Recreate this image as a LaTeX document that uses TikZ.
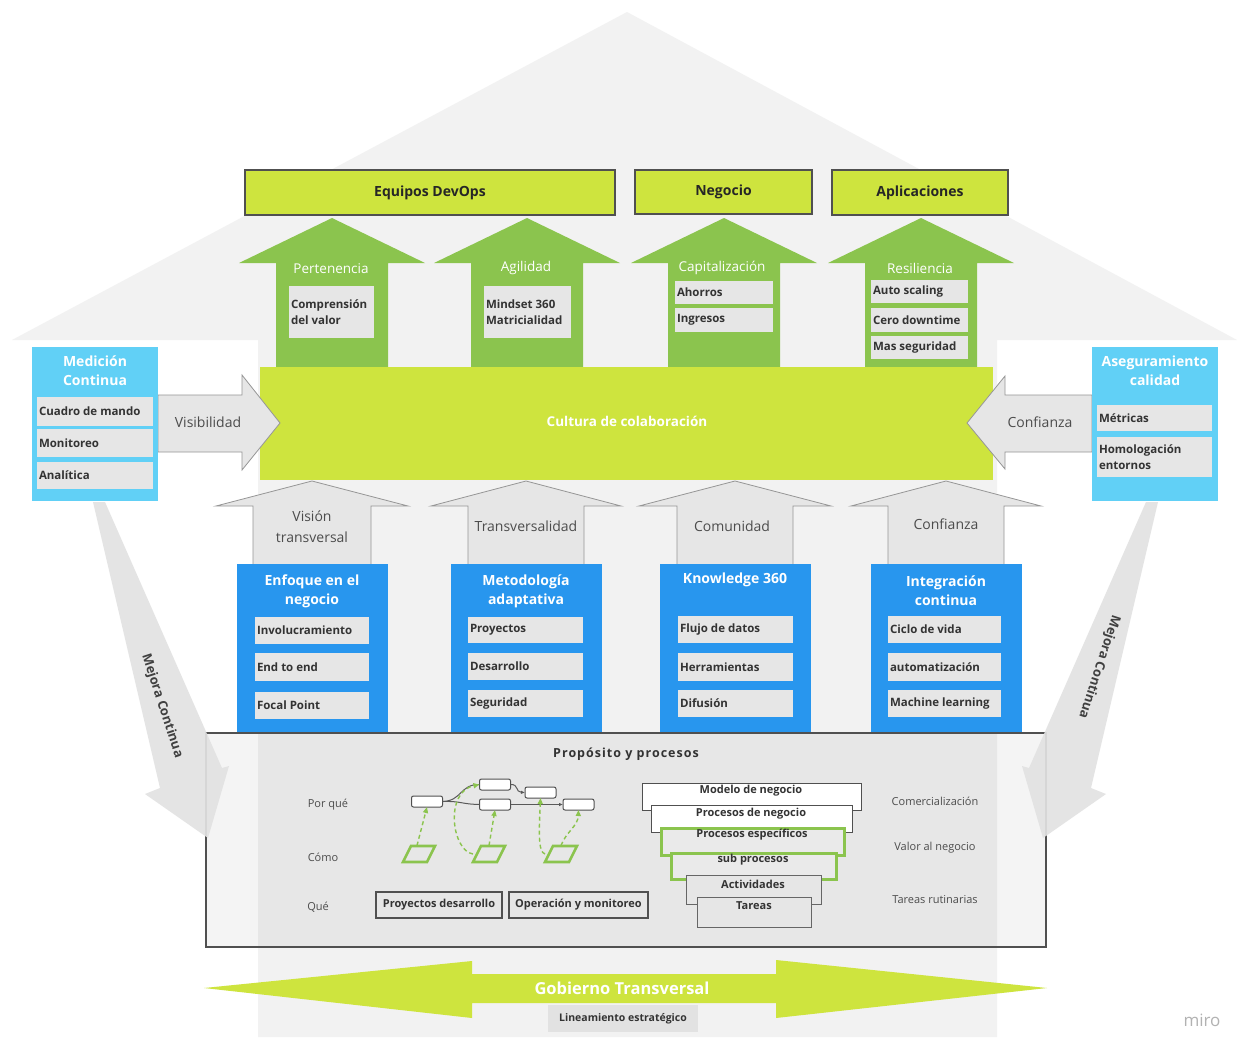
\documentclass[tikz,border=0pt]{standalone}
\usepackage{fontspec}
\setmainfont{Open Sans}
\usetikzlibrary{arrows.meta}

\definecolor{lime}{RGB}{206,228,62}
\definecolor{leaf}{RGB}{139,196,78}
\definecolor{sky}{RGB}{97,208,246}
\definecolor{azure}{RGB}{40,150,238}
\definecolor{chipgray}{RGB}{230,230,230}
\definecolor{house}{RGB}{242,242,242}
\definecolor{ink}{RGB}{51,51,51}
\definecolor{edge}{RGB}{80,80,80}
\definecolor{shade}{RGB}{226,226,226}
\definecolor{outline}{RGB}{150,150,150}

% rectangle node given by its corners: style, name, x1, y1, x2, y2, text
\newcommand\mkbox[7]{\node[#1,minimum width={#5-#3},minimum height={#6-#4}] (#2) at ({(#3+#5)/2},{(#4+#6)/2}) {#7};}
% grey item with left-aligned label: name, x1, y1, x2, y2, text
\newcommand\mkchip[6]{%
  \node[chipbox,minimum width={#4-#2},minimum height={#5-#3}] (#1) at ({(#2+#4)/2},{(#3+#5)/2}) {};
  \node[chiptext,anchor=west] (#1-t) at ([xshift=2pt]#1.west) {#6};}
% upward block arrow: centre x, tip y, head base y, head half width, shaft half width, bottom y, style
\newcommand\uparrowshape[7]{\path[#7] (#1,#2) -- ({#1+#4},#3) -- ({#1+#5},#3) -- ({#1+#5},#6) -- ({#1-#5},#6) -- ({#1-#5},#3) -- ({#1-#4},#3) -- cycle;}

\begin{document}
\begin{tikzpicture}[x=1pt,y=-1pt,
  every node/.style={inner sep=0pt,outer sep=0pt},
  topbox/.style={rectangle,fill=lime,draw=edge,line width=1.2pt,text=black!85,font=\bfseries\fontsize{14}{17}\selectfont},
  chipbox/.style={rectangle,fill=chipgray},
  chiptext/.style={text=ink,align=left,font=\bfseries\fontsize{11.5}{16}\selectfont},
  greenlabel/.style={text=white,font=\fontsize{13.5}{16}\selectfont},
  graylabel/.style={text=black!70,align=center,font=\fontsize{14}{21}\selectfont},
  bluetitle/.style={text=white,align=center,font=\bfseries\fontsize{14}{19}\selectfont},
  graybody/.style={fill=chipgray,draw=outline,line width=0.8pt},
  minibox/.style={rectangle,rounded corners=2pt,fill=white,draw=edge,line width=1pt,minimum width=31pt,minimum height=11pt},
  flow/.style={draw=black!65,line width=1pt},
  flowtip/.style={flow,-{Latex[length=4pt,width=3.5pt]}},
  dashline/.style={draw=leaf,line width=1.4pt,dash pattern=on 4pt off 3pt,-{Triangle[length=6pt,width=5pt]}},
  para/.style={draw=leaf,line width=2.6pt,line join=miter},
  small/.style={text=black!70,font=\fontsize{11}{13}\selectfont},
  framebox/.style={rectangle,fill=chipgray,draw=edge,line width=1.2pt,text=ink,font=\bfseries\fontsize{11}{13}\selectfont},
  tier/.style={draw=edge,line width=1pt},
  tiertext/.style={text=ink,font=\bfseries\fontsize{11}{13}\selectfont},
]
\useasboundingbox (0,0) rectangle (1237,1037);
\fill[white] (0,0) rectangle (1237,1037);

% house: roof and body
\fill[house] (12,340) -- (627,12) -- (1237,340) -- (997,340) -- (997,1037) -- (258,1037) -- (258,340) -- cycle;

% green arrows towards the top boxes
\uparrowshape{332}{218}{263}{93}{56}{380}{fill=leaf}
\uparrowshape{527}{218}{263}{93}{56}{380}{fill=leaf}
\uparrowshape{724}{218}{263}{93}{56}{380}{fill=leaf}
\uparrowshape{921}{218}{263}{93}{56}{380}{fill=leaf}
\node[greenlabel] (l-pert) at (331,269) {Pertenencia};
\node[greenlabel] (l-agil) at (526,268) {Agilidad};
\node[greenlabel] (l-capi) at (722,268) {Capitalización};
\node[greenlabel] (l-resi) at (920,268) {Resiliencia};
\mkchip{c-comp}{289}{286}{374}{338}{Comprensión\\del valor}
\mkchip{c-mind}{484}{286}{571}{338}{Mindset 360\\Matricialidad}
\mkchip{c-ahor}{675}{281}{773}{304}{Ahorros}
\mkchip{c-ingr}{675}{308}{773}{332}{Ingresos}
\mkchip{c-auto}{871}{280}{968}{303}{Auto scaling}
\mkchip{c-cero}{871}{308}{968}{332}{Cero downtime}
\mkchip{c-mass}{871}{336}{968}{359}{Mas seguridad}

% top boxes
\mkbox{topbox}{teams}{245}{170}{615}{215}{Equipos DevOps}
\mkbox{topbox}{biz}{635}{170}{812}{214}{Negocio}
\mkbox{topbox}{apps}{832}{170}{1008}{215}{Aplicaciones}

% grey arrows from the pillars up to the culture band
\uparrowshape{312}{481}{506}{96}{59}{580}{graybody}
\uparrowshape{526}{481}{506}{95}{58}{580}{graybody}
\uparrowshape{735}{481}{506}{96}{58}{580}{graybody}
\uparrowshape{946}{481}{506}{95}{58}{580}{graybody}
\node[graylabel] (g-vis) at (312,527) {Visión\\transversal};
\node[graylabel] (g-tra) at (526,526) {Transversalidad};
\node[graylabel] (g-com) at (732,526) {Comunidad};
\node[graylabel] (g-con) at (946,524) {Confianza};

% culture band
\mkbox{fill=lime}{culture}{260}{367}{993}{480}{}
\node[text=white,font=\bfseries\fontsize{13.5}{16}\selectfont] (culture-t) at (627,421) {Cultura de colaboración};

% side arrows
\path[graybody] (158,395) -- (242,395) -- (242,375) -- (280,423) -- (242,470) -- (242,452) -- (158,452) -- cycle;
\path[graybody] (1092,395) -- (1005,395) -- (1005,376) -- (967,423) -- (1005,469) -- (1005,452) -- (1092,452) -- cycle;
\node[graylabel] (a-vis) at (208,422) {Visibilidad};
\node[graylabel] (a-con) at (1040,422) {Confianza};

% side boxes
\mkbox{fill=sky}{measure}{32}{347}{158}{501}{}
\node[bluetitle] (measure-t) at (95,371) {Medición\\Continua};
\mkchip{m-cuad}{37}{397}{153}{426}{Cuadro de mando}
\mkchip{m-moni}{37}{429}{153}{457}{Monitoreo}
\mkchip{m-anal}{37}{462}{153}{489}{Analítica}
\mkbox{fill=sky}{quality}{1092}{347}{1218}{501}{}
\node[bluetitle] (quality-t) at (1155,371) {Aseguramiento\\calidad};
\mkchip{q-metr}{1097}{405}{1212}{431}{Métricas}
\mkchip{q-homo}{1097}{437}{1212}{477}{Homologación\\entornos}

% pillars
\mkbox{fill=azure}{p-enf}{237}{564}{388}{732}{}
\node[bluetitle] (p-enf-t) at (312,591) {Enfoque en el\\negocio};
\mkchip{e-invo}{255}{617}{369}{644}{Involucramiento}
\mkchip{e-end}{255}{653}{369}{681}{End to end}
\mkchip{e-foca}{255}{692}{369}{719}{Focal Point}

\mkbox{fill=azure}{p-met}{451}{564}{602}{732}{}
\node[bluetitle] (p-met-t) at (526,591) {Metodología\\adaptativa};
\mkchip{d-proy}{468}{617}{583}{643}{Proyectos}
\mkchip{d-desa}{468}{653}{583}{680}{Desarrollo}
\mkchip{d-segu}{468}{690}{583}{717}{Seguridad}

\mkbox{fill=azure}{p-kno}{660}{564}{811}{732}{}
\node[bluetitle] (p-kno-t) at (735,580) {Knowledge 360};
\mkchip{k-fluj}{678}{616}{793}{643}{Flujo de datos}
\mkchip{k-herr}{678}{653}{793}{681}{Herramientas}
\mkchip{k-difu}{678}{690}{793}{717}{Difusión}

\mkbox{fill=azure}{p-int}{871}{564}{1022}{732}{}
\node[bluetitle] (p-int-t) at (946,591) {Integración\\continua};
\mkchip{i-cicl}{888}{616}{1001}{643}{Ciclo de vida}
\mkchip{i-auto}{888}{653}{1001}{681}{automatización}
\mkchip{i-mach}{888}{690}{1001}{717}{Machine learning}

% purpose and processes
\path[fill=black,fill opacity=0.045] (206,733) rectangle (1046,947);
\draw[edge,line width=1.1pt] (206,733) rectangle (1046,947);
\node[text=ink,font=\bfseries\addfontfeature{LetterSpace=8}\fontsize{12.5}{15}\selectfont] (purpose) at (626,754) {Propósito y procesos};
\node[small] (why) at (328,805) {Por qué};
\node[small] (how) at (323,857) {Cómo};
\node[small] (what) at (318,907) {Qué};

\node[minibox] (r1) at (427,801.5) {};
\node[minibox] (r2) at (495,784.5) {};
\node[minibox] (r3) at (495,804.5) {};
\node[minibox] (r4) at (540.5,792.5) {};
\node[minibox] (r5) at (578.5,804.5) {};
\draw[flow] (r1.east) .. controls (462,801) and (460,784) .. (r2.west);
\draw[flow] (r1.east) .. controls (462,801) and (460,804) .. (r3.west);
\draw[flowtip] (r2.east) .. controls (519,784) and (515,792) .. (r4.west);
\draw[flowtip] (r3.east) -- (r5.west);

\node[minimum width=32pt,minimum height=17pt] (p1) at (419,854) {};
\node[minimum width=32pt,minimum height=17pt] (p2) at (489,854) {};
\node[minimum width=32pt,minimum height=17pt] (p3) at (561,854) {};
\foreach \p in {p1,p2,p3}{
  \draw[para] ([shift={(-16,8)}]\p.center) -- ([shift={(8,8)}]\p.center) -- ([shift={(16,-8)}]\p.center) -- ([shift={(-8,-8)}]\p.center) -- cycle;}
\draw[dashline] ([xshift=-2pt]p1.north) -- (r1.south);
\draw[dashline] (p2.west) .. controls (452,851) and (444,792) .. (r2.west);
\draw[dashline] (p2.north) -- (r3.south);
\draw[dashline] (p3.west) .. controls (538,852) and (539,832) .. (r4.south);
\draw[dashline] (p3.north) .. controls (566,832) and (578,826) .. (r5.south);

\mkbox{framebox}{dev}{376}{892}{502}{918}{Proyectos desarrollo}
\mkbox{framebox}{ops}{509}{892}{648}{918}{Operación y monitoreo}

% process tiers
\filldraw[tier,fill=white] (642,783) rectangle (861,810);
\filldraw[tier,fill=white] (651,805) rectangle (852,832);
\filldraw[draw=leaf,line width=3pt,fill=chipgray!85] (661,828) rectangle (844,855);
\filldraw[draw=leaf,line width=3pt,fill=chipgray!85] (671,853) rectangle (836,879);
\filldraw[tier,draw=black!60,fill=chipgray] (686,875) rectangle (821,904);
\filldraw[tier,draw=black!60,fill=chipgray] (697,897) rectangle (811,927);
\node[tiertext] (t-mod) at (751,791) {Modelo de negocio};
\node[tiertext] (t-pro) at (751,814) {Procesos de negocio};
\node[tiertext] (t-esp) at (752,835) {Procesos específicos};
\node[tiertext] (t-sub) at (753,860) {sub procesos};
\node[tiertext] (t-act) at (753,884) {Actividades};
\node[tiertext] (t-tar) at (754,906) {Tareas};
\node[small] (v-com) at (935,801) {Comercialización};
\node[small] (v-val) at (935,848) {Valor al negocio};
\node[small] (v-tar) at (935,900) {Tareas rutinarias};

% continuous improvement arrows
\path[fill=shade,fill opacity=0.92] (93,502) -- (105,502) -- (222,768) -- (229,766) -- (208,838) -- (145,794) -- (160,788) -- cycle;
\path[fill=shade,fill opacity=0.92] (1158,502) -- (1146,502) -- (1029,768) -- (1022,766) -- (1043,838) -- (1106,794) -- (1091,788) -- cycle;
\node[rotate=-72,text=black!75,font=\bfseries\fontsize{13}{15}\selectfont] (mc-l) at (162,706) {Mejora Continua};
\node[rotate=-108,text=black!75,font=\bfseries\fontsize{13}{15}\selectfont] (mc-r) at (1099,667) {Mejora Continua};

% governance arrow
\path[fill=lime] (204,988) -- (472,961) -- (472,974) -- (776,974) -- (776,960) -- (1047,988) -- (776,1018) -- (776,1003) -- (472,1003) -- (472,1018) -- cycle;
\node[text=white,font=\bfseries\fontsize{16.5}{19}\selectfont] (gov) at (622,988) {Gobierno Transversal};
\mkbox{fill=shade}{guide}{548}{1005}{698}{1032}{}
\node[text=ink,font=\bfseries\fontsize{10.5}{13}\selectfont] (guide-t) at (623,1019) {Lineamiento estratégico};

\node[text=black!30,font=\fontsize{17}{20}\selectfont] (brand) at (1202,1020) {miro};
\end{tikzpicture}
\end{document}
